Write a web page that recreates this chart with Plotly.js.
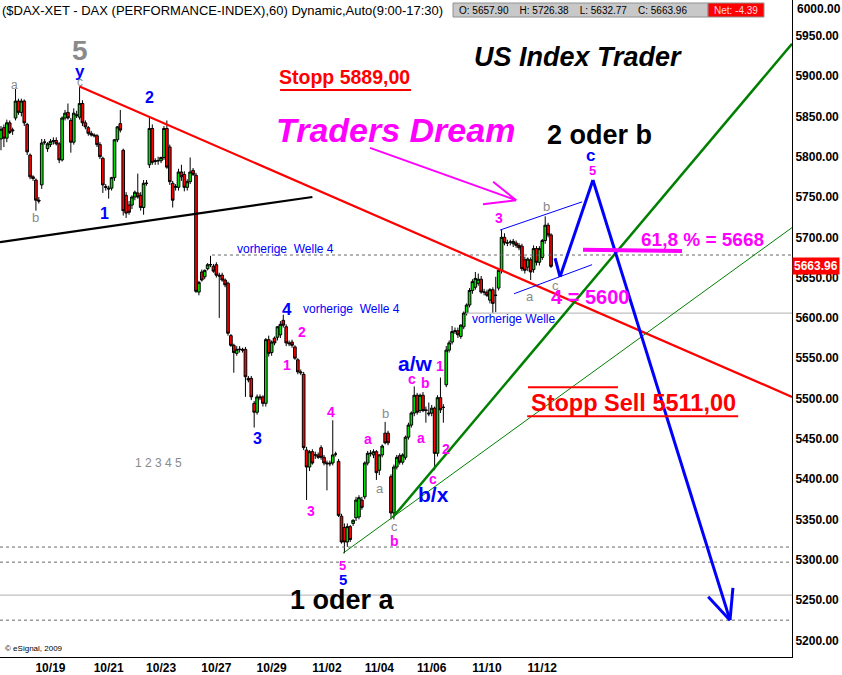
<!DOCTYPE html>
<html><head><meta charset="utf-8">
<script src="https://cdn.plot.ly/plotly-3.0.1.min.js"></script>
<style>html,body{margin:0;padding:0;background:#fff}#chart{width:842px;height:675px}</style>
</head><body><div id="chart"></div>
<script>
// Hourly DAX bars (bar index order)
const openP = [5822,5836,5823,5842,5832,5848,5869,5855,5869,5840,5802,5775,5771,5746,5765,5818,5810,5815,5819,5820,
5816,5796,5848,5855,5845,5818,5852,5849,5866,5842,5836,5829,5827,5826,5815,5798,5763,5761,5761,5774,
5821,5841,5808,5752,5740,5740,5750,5755,5752,5737,5767,5790,5835,5794,5795,5795,5799,5835,5812,5767,
5762,5762,5781,5778,5762,5769,5783,5777,5632,5657,5651,5661,5666,5664,5666,5653,5653,5647,5643,5578,
5566,5556,5561,5561,5561,5525,5525,5494,5483,5502,5502,5494,5573,5557,5575,5576,5579,5597,5589,5569,
5570,5564,5548,5533,5530,5436,5415,5434,5430,5430,5439,5427,5420,5420,5420,5431,5422,5354,5340,5322,
5341,5345,5352,5353,5374,5378,5420,5432,5430,5434,5411,5430,5457,5457,5403,5358,5415,5429,5421,5427,
5452,5467,5482,5504,5485,5504,5486,5482,5482,5488,5432,5501,5489,5517,5560,5570,5583,5584,5577,5589,
5606,5616,5634,5638,5643,5648,5632,5632,5622,5635,5628,5637,5659,5700,5693,5694,5692,5693,5690,5689,
5672,5663,5672,5660,5686,5669,5675,5696,5715,5703];
const highP = [5838,5840,5846,5845,5836,5884,5872,5872,5871,5842,5804,5777,5773,5750,5822,5822,5818,5822,5824,5824,
5818,5850,5858,5866,5848,5860,5857,5887,5870,5845,5838,5832,5829,5828,5818,5800,5766,5764,5775,5822,
5838,5858,5810,5756,5745,5752,5758,5779,5756,5771,5771,5850,5840,5798,5800,5800,5838,5845,5815,5770,
5766,5785,5790,5782,5772,5799,5786,5780,5646,5660,5660,5668,5677,5667,5669,5656,5656,5649,5645,5580,
5568,5565,5565,5563,5564,5528,5528,5497,5505,5505,5504,5575,5578,5572,5577,5590,5596,5604,5592,5572,
5573,5566,5550,5536,5533,5440,5436,5437,5434,5433,5442,5430,5423,5423,5473,5434,5425,5357,5345,5345,
5343,5350,5378,5380,5378,5422,5435,5436,5437,5436,5431,5443,5471,5460,5406,5418,5430,5432,5432,5454,
5470,5484,5515,5507,5506,5508,5490,5495,5492,5490,5504,5526,5493,5565,5572,5590,5588,5588,5592,5608,
5618,5637,5648,5657,5655,5652,5636,5635,5637,5638,5651,5662,5709,5705,5697,5697,5698,5696,5693,5692,
5676,5675,5675,5690,5689,5689,5698,5726,5718,5705];
const lowP = [5808,5812,5818,5828,5827,5845,5852,5850,5838,5802,5772,5770,5733,5742,5760,5815,5806,5812,5815,5814,
5792,5794,5845,5846,5805,5815,5848,5846,5838,5834,5826,5825,5824,5812,5797,5755,5758,5748,5758,5770,
5818,5830,5727,5724,5728,5735,5746,5748,5733,5728,5764,5786,5790,5790,5790,5792,5796,5785,5765,5737,
5758,5758,5770,5757,5758,5766,5776,5631,5628,5645,5648,5659,5663,5656,5650,5600,5645,5638,5578,5564,
5532,5553,5557,5557,5502,5520,5498,5464,5480,5498,5490,5490,5552,5553,5566,5572,5575,5588,5565,5565,
5563,5548,5530,5529,5436,5374,5410,5418,5425,5425,5424,5417,5386,5416,5417,5428,5353,5320,5308,5316,
5322,5342,5348,5350,5362,5375,5417,5428,5426,5399,5405,5427,5443,5442,5350,5350,5412,5418,5418,5424,
5449,5464,5478,5480,5482,5483,5470,5478,5478,5411,5428,5482,5470,5514,5557,5567,5580,5575,5574,5586,
5603,5613,5630,5635,5640,5630,5628,5626,5618,5606,5607,5634,5655,5690,5689,5690,5688,5687,5684,5658,
5655,5658,5647,5656,5665,5665,5672,5692,5700,5662];
const closeP = [5834,5823,5842,5830,5833,5869,5855,5869,5842,5806,5775,5773,5746,5745,5817,5818,5816,5819,5820,5816,
5796,5848,5854,5848,5818,5854,5851,5866,5842,5837,5829,5827,5826,5815,5800,5765,5762,5760,5774,5821,
5837,5833,5733,5730,5731,5750,5756,5750,5737,5767,5767,5835,5793,5795,5795,5799,5835,5787,5769,5746,
5763,5781,5775,5762,5769,5781,5778,5633,5644,5647,5659,5666,5666,5658,5653,5652,5647,5641,5581,5566,
5557,5561,5561,5560,5527,5523,5502,5483,5502,5501,5494,5573,5556,5570,5569,5589,5592,5591,5569,5568,
5566,5550,5533,5532,5439,5415,5434,5420,5430,5427,5427,5420,5419,5419,5430,5431,5355,5322,5322,5341,
5325,5349,5374,5377,5365,5420,5432,5432,5434,5408,5430,5441,5445,5445,5358,5415,5427,5421,5430,5452,
5467,5482,5504,5483,5504,5485,5485,5481,5488,5432,5501,5486,5489,5560,5569,5583,5584,5579,5591,5606,
5616,5634,5645,5649,5648,5632,5632,5628,5635,5618,5628,5659,5700,5693,5693,5694,5695,5690,5687,5661,
5659,5673,5657,5686,5669,5686,5696,5715,5703,5663.96];

const dateTickPos = [17,37,55,74,93,112,130,148,167,186];
const dateTickText = ['10/19','10/21','10/23','10/27','10/29','11/02','11/04','11/06','11/10','11/12'];
const priceTicks = [5200,5250,5300,5350,5400,5450,5500,5550,5600,5650,5700,5750,5800,5850,5900,5950];
const lastClose = 5663.96;
const dayBar = {O:'5657.90', H:'5726.38', L:'5632.77', C:'5663.96', net:'-4.39'};

// Levels and trend lines (bar index, price)
const redTrend = [[27,5887],[271.8,5502]];
const blackTrend = [[-0.34,5694],[107,5750]];
const greenThick = [[134.5,5352],[271.8,5940]];
const greenThin = [[117.5,5308],[271.8,5712]];
const blueUpper = [[171.5,5709],[199.7,5744]];
const blueLower = [[176.3,5630],[203.1,5666]];
const bluePath = [[190.4,5674],[192.1,5651],[203.4,5771],[250.5,5225]];
const blueHead = [[243,5254],[250.5,5225],[251.5,5265]];
const pinkArrow = [[126.8,5811],[177,5746]];
const pinkHead = [[169.1,5769],[177,5746],[165.6,5741]];
const fibLine = [[200,5684.5],[234,5683]];
const stoppLine = [[95.9,5882.7],[140.9,5882.7]];
const sellLines = [[[181.1,5514],[212,5514]],[[180.8,5478],[253.3,5478]]];
const dottedLevels = [[72.5,5678],[-0.34,5315.7],[-0.34,5297]]; // [start bar, price]
const dottedLow = [[-0.34,5225]];
const greyLevels = [[159.8,5606],[-0.34,5256]];
const xEnd = 271.8;

const barIndex = openP.map((_, i) => i);

const shapes = [];
function seg(pts, color, width, dash){
  for(let k=0;k<pts.length-1;k++){
    shapes.push({type:'line', xref:'x', yref:'y', x0:pts[k][0], y0:pts[k][1], x1:pts[k+1][0], y1:pts[k+1][1],
      line:{color:color, width:width, dash:dash||'solid'}, layer:'above'});
  }
}
dottedLevels.forEach(l=>seg([[l[0],l[1]],[xEnd,l[1]]],'#666666',1,'dot'));
dottedLow.forEach(l=>seg([[l[0],l[1]],[xEnd,l[1]]],'#666666',1,'dot'));
greyLevels.forEach(l=>seg([[l[0],l[1]],[xEnd,l[1]]],'#c0c0c0',1.2));
seg(blackTrend,'#000000',2.2);
seg(redTrend,'#ff0000',2.2);
seg(greenThin,'#008000',1);
seg(greenThick,'#008000',2.5);
seg(blueUpper,'#0000ff',1);
seg(blueLower,'#0000ff',1);
seg(bluePath,'#0000ff',3);
seg(blueHead,'#0000ff',3);
seg(pinkArrow,'#ff00ff',2);
seg(pinkHead,'#ff00ff',2);
seg(fibLine,'#ff00ff',4);
seg(stoppLine,'#ff0000',2);
sellLines.forEach(s=>seg(s,'#ff0000',2));

// header boxes (paper coords relative to plot area)
const W = 792, H = 657;
shapes.push({type:'rect', xref:'paper', yref:'paper', x0:453/W, x1:708/W, y0:1-17/H, y1:1-3/H,
  fillcolor:'#c8c8c8', line:{color:'#909090', width:1}, layer:'above'});
shapes.push({type:'rect', xref:'paper', yref:'paper', x0:708/W, x1:764/W, y0:1-17/H, y1:1-3/H,
  fillcolor:'#ff0000', line:{color:'#909090', width:1}, layer:'above'});

const ann = [];
const SANS = 'Liberation Sans, Arial, sans-serif';
function note(text, x, y, color, size, bold, italic, extra){
  ann.push(Object.assign({text:text, x:x, y:y, xref:'x', yref:'y', showarrow:false,
    font:{family:SANS, size:size, color:color, weight: bold?'bold':'normal', style: italic?'italic':'normal'},
    xanchor:'center', yanchor:'middle'}, extra||{}));
}
const GREY='#8a8a8a', BLUE='#0000ff', PINK='#ff00ff', RED='#ff0000', BLK='#000000';
note('5',27.1,5932,GREY,28,true);
note('y',27.1,5906,BLUE,17,true);
note('c',27.1,5893,GREY,12,false);
note('a',4.5,5889,GREY,12,false);
note('b',11.7,5725,GREY,13,false);
note('1',35.4,5730,BLUE,16,true);
note('2',50.9,5873,BLUE,16,true);
note('Stopp 5889,00',118.2,5899,RED,19.5,true);
note('US Index Trader',198.3,5924,BLK,27,true,true);
note('Traders Dream',135.4,5833,PINK,34,true,true);
note('2 oder b',205.8,5827,BLK,27,true);
note('c',202.7,5802,BLUE,17,true);
note('5',203.4,5783,PINK,13,true);
note('3',171.1,5724,PINK,14,true);
note('b',187.6,5738,GREY,13,false);
note('vorherige  Welle 4',97.9,5686,BLUE,12,false);
note('61,8 % = 5668',241.2,5697,PINK,19,true);
note('4',98.3,5610,BLUE,17,true);
note('vorherige  Welle 4',120.6,5611,BLUE,12,false);
note('2',103.4,5583,PINK,14,true);
note('1',98.3,5542,PINK,14,true);
note('3',88.3,5451,BLUE,16,true);
note('1 2 3 4 5',54,5420,GREY,12,false);
note('4',113.4,5483,PINK,14,true);
note('3',106.5,5360,PINK,14,true);
note('a/w',142.6,5543,BLUE,21,true);
note('c',141.2,5524,PINK,14,true);
note('b',146,5519,PINK,14,true);
note('b',132,5481,GREY,13,false);
note('a',126.1,5450,PINK,14,true);
note('a',130.2,5388,GREY,13,false);
note('a',144.3,5451,PINK,14,true);
note('1',150.9,5540,PINK,14,true);
note('2',152.9,5437,PINK,14,true);
note('c',148.5,5400,PINK,14,true);
note('b/x',148.5,5381,BLUE,21,true);
note('c',135.1,5341,GREY,13,false);
note('b',135.1,5323,PINK,14,true);
note('5',117.5,5293,PINK,13,true);
note('5',117.5,5275,BLUE,15,true);
note('1 oder a',117.2,5250,BLK,27,true);
note('Stopp Sell 5511,00',217.2,5494,RED,23.5,true);
note('vorherige Welle',176,5599,BLUE,12,false);
note('4 = 5600',202.4,5626,PINK,20,true);
note('a',181.8,5627,GREY,13,false);
note('c',190.7,5640,GREY,13,false);

// header texts
ann.push({text:'($DAX-XET - DAX (PERFORMANCE-INDEX),60) Dynamic,Auto(9:00-17:30)', xref:'paper', yref:'paper',
  x:0, y:1-10/H, xanchor:'left', yanchor:'middle', showarrow:false,
  font:{family:SANS, size:13, color:'#000'}});
ann.push({text:'O: '+dayBar.O+'    H: '+dayBar.H+'    L: '+dayBar.L+'    C: '+dayBar.C, xref:'paper', yref:'paper',
  x:457/W, y:1-10/H, xanchor:'left', yanchor:'middle', showarrow:false,
  font:{family:SANS, size:10, color:'#000'}});
ann.push({text:'Net: '+dayBar.net, xref:'paper', yref:'paper',
  x:736/W, y:1-10/H, xanchor:'center', yanchor:'middle', showarrow:false,
  font:{family:SANS, size:10, color:'#ffd8d8'}});
ann.push({text:'6000.00', xref:'paper', yref:'paper', x:1+3/W, y:1-9/H, xanchor:'left', yanchor:'middle',
  showarrow:false, font:{family:SANS, size:12, color:'#000', weight:'bold'}});
ann.push({text:lastClose.toFixed(2), xref:'paper', yref:'y', x:1, y:lastClose, xanchor:'left', yanchor:'middle',
  showarrow:false, bgcolor:'#ff0000', borderpad:1,
  font:{family:SANS, size:12, color:'#ffffff', weight:'bold'}});
ann.push({text:'© eSignal, 2009', xref:'paper', yref:'paper', x:3/W, y:1-648/H, xanchor:'left', yanchor:'middle',
  showarrow:false, font:{family:SANS, size:8, color:'#000'}});

const trace = {type:'candlestick', x:barIndex, open:openP, high:highP, low:lowP, close:closeP,
  increasing:{line:{color:'#000000', width:1}, fillcolor:'#00e000'},
  decreasing:{line:{color:'#000000', width:1}, fillcolor:'#ff0000'},
  whiskerwidth:0, hoverinfo:'none'};

const layout = {
  width:842, height:675, margin:{l:0, r:50, t:0, b:18}, showlegend:false,
  paper_bgcolor:'#ffffff', plot_bgcolor:'#ffffff', boxgap:0.05, boxgroupgap:0.05,
  xaxis:{range:[-0.34, xEnd], tickmode:'array', tickvals:dateTickPos, ticktext:dateTickText,
    showgrid:false, zeroline:false, showline:true, linecolor:'#000', linewidth:1, ticks:'',
    rangeslider:{visible:false}, fixedrange:true,
    tickfont:{family:SANS, size:12, color:'#000', weight:'bold'}},
  yaxis:{side:'right', range:[5179.3, 5994.4], tickmode:'array', tickvals:priceTicks,
    ticktext:priceTicks.map(v=>v.toFixed(2)), showgrid:false, zeroline:false, showline:true,
    linecolor:'#000', linewidth:1, ticks:'', fixedrange:true,
    tickfont:{family:SANS, size:12, color:'#000', weight:'bold'}},
  shapes:shapes, annotations:ann
};
Plotly.newPlot('chart', [trace], layout, {displayModeBar:false, staticPlot:true});
</script></body></html>
